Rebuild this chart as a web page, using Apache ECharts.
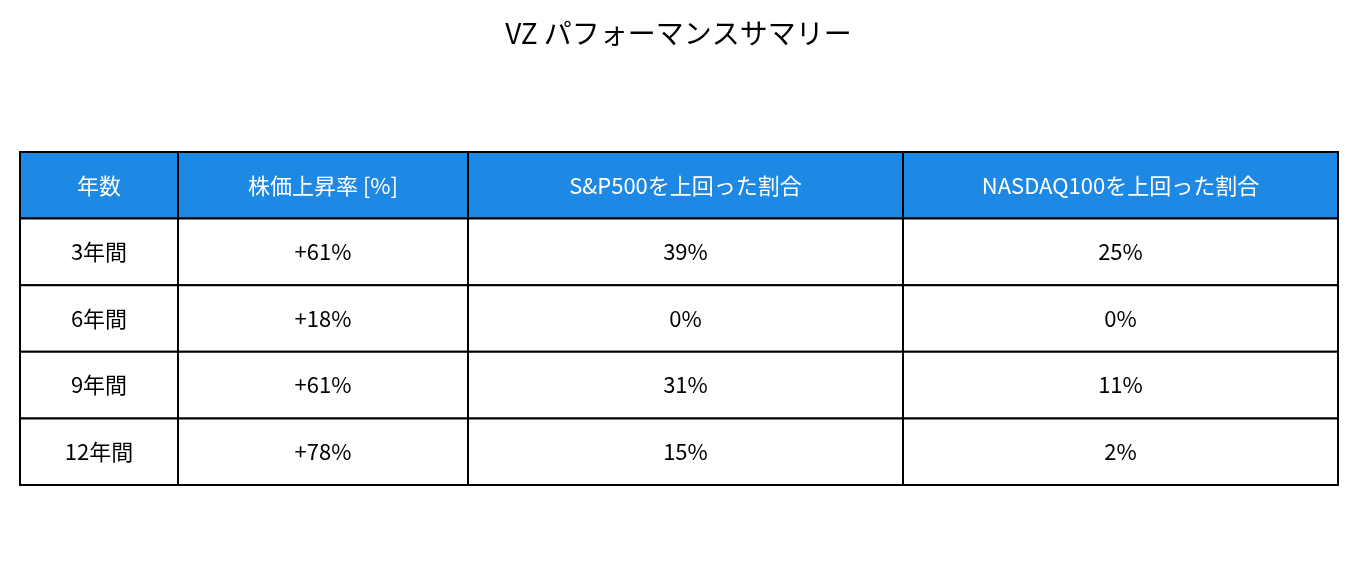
<!DOCTYPE html>
<html>
<head>
<meta charset="utf-8">
<script src="https://cdn.jsdelivr.net/npm/echarts@6/dist/echarts.min.js"></script>
<style>html,body{margin:0;padding:0;background:#fff}#main{width:1357px;height:569px}</style>
</head>
<body>
<div id="main"></div>
<script>
var headers = ['年数', '株価上昇率 [%]', 'S&P500を上回った割合', 'NASDAQ100を上回った割合'];
var periods = ['3年間', '6年間', '9年間', '12年間'];
var priceGain = ['+61%', '+18%', '+61%', '+78%'];
var beatSP500 = ['39%', '0%', '31%', '15%'];
var beatNasdaq = ['25%', '0%', '11%', '2%'];
// column edges along the x axis
var colEdges = [0, 158, 448, 883, 1318];

var columns = [periods, priceGain, beatSP500, beatNasdaq];
var cells = [];
headers.forEach(function (h, c) {
  cells.push([colEdges[c], colEdges[c + 1], 0, h, 1]);
});
periods.forEach(function (p, r) {
  columns.forEach(function (col, c) {
    cells.push([colEdges[c], colEdges[c + 1], r + 1, col[r], 0]);
  });
});

var font = 'Noto Sans CJK JP';
var myChart = echarts.init(document.getElementById('main'));
var option = {
  animation: false,
  title: {
    text: 'VZ パフォーマンスサマリー',
    left: 'center',
    top: 14,
    textStyle: { fontFamily: font, fontSize: 28, fontWeight: 'normal', color: '#000' }
  },
  grid: { left: 20, right: 19, top: 152, bottom: 84 },
  xAxis: { type: 'value', min: 0, max: 1318, show: false },
  yAxis: { type: 'value', min: 0, max: 5, inverse: true, show: false },
  series: [{
    type: 'custom',
    data: cells,
    renderItem: function (params, api) {
      var p0 = api.coord([api.value(0), api.value(2)]);
      var p1 = api.coord([api.value(1), api.value(2) + 1]);
      var head = api.value(4) === 1;
      return {
        type: 'group',
        children: [{
          type: 'rect',
          shape: { x: p0[0], y: p0[1], width: p1[0] - p0[0], height: p1[1] - p0[1] },
          style: { fill: head ? '#1E88E5' : '#fff', stroke: '#000', lineWidth: 2 }
        }, {
          type: 'text',
          style: {
            text: cells[params.dataIndex][3],
            x: (p0[0] + p1[0]) / 2, y: (p0[1] + p1[1]) / 2,
            align: 'center', verticalAlign: 'middle',
            fontFamily: font, fontSize: 22,
            fill: head ? '#fff' : '#000'
          }
        }]
      };
    }
  }]
};
myChart.setOption(option);
window.addEventListener('resize', myChart.resize);
</script>
</body>
</html>
